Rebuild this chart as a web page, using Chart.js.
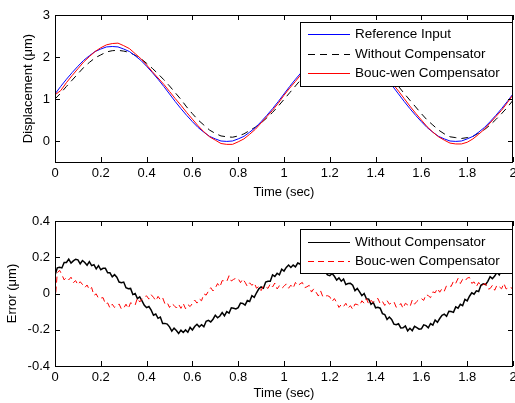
<!DOCTYPE html>
<html><head><meta charset="utf-8">
<script src="https://cdn.jsdelivr.net/npm/chart.js@4.4.0/dist/chart.umd.min.js"></script>
<style>
html,body{margin:0;padding:0;background:#fff;width:515px;height:403px;overflow:hidden}
canvas{position:absolute;left:0}
#c1{top:0}
#c2{top:200px}
</style></head><body>
<canvas id="c1" width="515" height="200"></canvas>
<canvas id="c2" width="515" height="203"></canvas>
<script>
// ---- data ----
const dtTop = 0.025;   // sample spacing of the displacement curves (s)
const dtErr = 0.01;    // sample spacing of the error curves (s)

const xTickVals   = [0, 0.2, 0.4, 0.6, 0.8, 1, 1.2, 1.4, 1.6, 1.8, 2];
const xTickLabels = ['0','0.2','0.4','0.6','0.8','1','1.2','1.4','1.6','1.8','2'];
const yTopTickVals   = [0, 1, 2, 3];
const yTopTickLabels = ['0','1','2','3'];
const yErrTickVals   = [-0.4, -0.2, 0, 0.2, 0.4];
const yErrTickLabels = ['-0.4','-0.2','0','0.2','0.4'];

const refInput = [1.12,1.30,1.47,1.63,1.78,1.92,2.03,2.13,2.19,2.24,2.25,2.24,2.19,2.13,2.03,1.92,1.78,1.63,1.47,1.30,1.12,0.94,0.77,0.61,0.46,0.32,0.21,0.11,0.05,0.00,-0.01,0.00,0.05,0.11,0.21,0.32,0.46,0.61,0.77,0.94,1.12,
1.30,1.47,1.63,1.78,1.92,2.03,2.13,2.19,2.24,2.25,2.24,2.19,2.13,2.03,1.92,1.78,1.63,1.47,1.30,1.12,0.94,0.77,0.61,0.46,0.32,0.21,0.11,0.05,0.00,-0.01,0.00,0.05,0.11,0.21,0.32,0.46,0.61,0.77,0.94,1.12];

const withoutComp = [1.00,1.14,1.30,1.45,1.60,1.75,1.87,1.98,2.05,2.12,2.15,2.16,2.14,2.11,2.04,1.96,1.85,1.73,1.60,1.46,1.31,1.15,0.99,0.81,0.65,0.50,0.38,0.26,0.18,0.12,0.10,0.09,0.12,0.17,0.25,0.33,0.43,0.55,0.68,0.83,0.99,
1.15,1.31,1.47,1.63,1.78,1.90,2.01,2.08,2.15,2.18,2.18,2.15,2.12,2.04,1.96,1.85,1.73,1.60,1.46,1.30,1.13,0.97,0.81,0.65,0.50,0.38,0.26,0.17,0.10,0.08,0.06,0.08,0.11,0.19,0.27,0.38,0.51,0.65,0.80,0.97];

const boucWen = [1.10,1.20,1.39,1.56,1.72,1.88,2.01,2.13,2.22,2.29,2.32,2.33,2.27,2.20,2.08,1.96,1.81,1.65,1.50,1.35,1.18,1.01,0.85,0.68,0.52,0.36,0.22,0.10,0.02,-0.06,-0.08,-0.08,-0.02,0.05,0.16,0.28,0.43,0.58,0.73,0.90,1.09,
1.26,1.42,1.59,1.74,1.90,2.03,2.15,2.22,2.29,2.32,2.32,2.26,2.19,2.08,1.96,1.82,1.68,1.52,1.36,1.19,1.01,0.83,0.66,0.50,0.34,0.21,0.10,0.02,-0.05,-0.07,-0.07,-0.03,0.05,0.16,0.28,0.43,0.58,0.73,0.91,1.10];

const errWithout = [
0.100,0.142,0.145,0.141,0.171,0.171,0.190,0.168,0.180,0.189,
0.186,0.164,0.182,0.171,0.156,0.176,0.154,0.159,0.136,0.154,
0.131,0.139,0.139,0.114,0.114,0.092,0.104,0.090,0.063,0.059,
0.063,0.032,0.026,0.028,-0.006,0.000,-0.028,-0.019,-0.041,-0.065,
-0.078,-0.072,-0.092,-0.120,-0.113,-0.137,-0.130,-0.165,-0.165,-0.169,
-0.184,-0.208,-0.191,-0.204,-0.220,-0.202,-0.215,-0.201,-0.214,-0.187,
-0.201,-0.182,-0.170,-0.184,-0.172,-0.183,-0.153,-0.148,-0.157,-0.142,
-0.120,-0.134,-0.124,-0.105,-0.123,-0.100,-0.108,-0.079,-0.081,-0.085,
-0.078,-0.053,-0.055,-0.064,-0.039,-0.044,-0.012,-0.021,0.004,0.026,
0.036,0.029,0.063,0.067,0.068,0.103,0.094,0.112,0.103,0.134,
0.124,0.144,0.157,0.144,0.157,0.147,0.168,0.163,0.145,0.150,
0.163,0.139,0.140,0.149,0.122,0.135,0.115,0.133,0.119,0.103,
0.098,0.110,0.095,0.074,0.086,0.068,0.080,0.050,0.055,0.056,
0.046,0.016,0.028,0.009,-0.012,0.000,-0.029,-0.031,-0.060,-0.049,
-0.079,-0.076,-0.081,-0.111,-0.116,-0.143,-0.130,-0.143,-0.169,-0.172,
-0.167,-0.190,-0.189,-0.179,-0.206,-0.192,-0.205,-0.181,-0.188,-0.197,
-0.195,-0.173,-0.177,-0.189,-0.166,-0.174,-0.146,-0.159,-0.138,-0.120,
-0.114,-0.126,-0.098,-0.099,-0.104,-0.074,-0.081,-0.060,-0.067,-0.033,
-0.041,-0.015,0.004,-0.004,0.015,0.011,0.045,0.053,0.049,0.067,
0.093,0.082,0.096,0.117,0.103,0.129,0.119,0.146,0.143,0.137,
0.155];

const errBoucWen = [
-0.050,0.114,0.128,0.104,0.075,0.089,0.075,0.090,0.060,0.071,
0.048,0.065,0.050,0.032,0.047,0.021,0.033,-0.010,-0.002,-0.027,
-0.025,-0.023,-0.058,-0.052,-0.080,-0.059,-0.077,-0.066,-0.058,-0.086,
-0.081,-0.059,-0.083,-0.051,-0.057,-0.064,-0.025,-0.047,-0.031,-0.018,
-0.013,-0.031,-0.007,-0.021,-0.040,-0.016,-0.034,-0.023,-0.057,-0.050,
-0.077,-0.056,-0.066,-0.080,-0.060,-0.082,-0.055,-0.084,-0.061,-0.072,
-0.055,-0.036,-0.053,-0.030,-0.040,-0.002,-0.009,0.013,0.032,0.014,
0.030,0.055,0.036,0.071,0.070,0.066,0.098,0.069,0.078,0.084,
0.082,0.060,0.080,0.062,0.039,0.059,0.045,0.059,0.029,0.039,
0.016,0.042,0.037,0.028,0.053,0.036,0.058,0.025,0.043,0.028,
0.040,0.053,0.029,0.046,0.029,0.061,0.043,0.053,0.061,0.032,
0.037,0.045,0.008,0.026,0.007,-0.014,0.014,-0.019,-0.014,-0.012,
-0.018,-0.044,-0.028,-0.050,-0.077,-0.061,-0.072,-0.054,-0.081,-0.067,
-0.087,-0.058,-0.061,-0.067,-0.040,-0.054,-0.029,-0.059,-0.038,-0.050,
-0.035,-0.027,-0.056,-0.044,-0.066,-0.039,-0.059,-0.051,-0.045,-0.076,
-0.073,-0.055,-0.082,-0.054,-0.063,-0.074,-0.036,-0.059,-0.044,-0.032,
-0.028,-0.038,-0.006,-0.012,-0.023,0.009,0.004,0.028,0.007,0.027,
0.013,0.044,0.043,0.039,0.068,0.056,0.083,0.055,0.078,0.068,
0.085,0.089,0.056,0.064,0.038,0.061,0.041,0.049,0.055,0.024,
0.027,0.045,0.018,0.046,0.037,0.026,0.056,0.025,0.032,0.036,
0.020];

// ---- helpers ----
const FONT = "'Liberation Sans', Arial, Helvetica, sans-serif";
Chart.defaults.font.family = FONT;
Chart.defaults.font.size = 13;
Chart.defaults.color = '#000';

const toXY = (arr, dt) => arr.map((v, i) => ({ x: +(i * dt).toFixed(4), y: v }));

const matlabBox = {
  id: 'matlabBox',
  afterDraw(chart, args, opts) {
    const { ctx, chartArea: a, scales: { x, y } } = chart;
    const L = 5;
    ctx.save();
    ctx.strokeStyle = '#000';
    ctx.lineWidth = 1;
    ctx.setLineDash([]);
    ctx.beginPath();
    x.ticks.forEach(t => {
      const px = Math.round(x.getPixelForValue(t.value)) + 0.5;
      ctx.moveTo(px, a.bottom); ctx.lineTo(px, a.bottom - L);
      ctx.moveTo(px, a.top); ctx.lineTo(px, a.top + L);
    });
    y.ticks.forEach(t => {
      const py = Math.round(y.getPixelForValue(t.value)) + 0.5;
      ctx.moveTo(a.left, py); ctx.lineTo(a.left + L, py);
      ctx.moveTo(a.right, py); ctx.lineTo(a.right - L, py);
    });
    ctx.stroke();
    ctx.strokeRect(Math.round(a.left) + 0.5, Math.round(a.top) + 0.5,
                   Math.round(a.right - a.left) - 1, Math.round(a.bottom - a.top));

    // legend box
    const lg = opts.legend;
    if (lg) {
      ctx.fillStyle = '#fff';
      ctx.fillRect(lg.x, lg.y, lg.w, lg.h);
      ctx.strokeRect(lg.x + 0.5, lg.y + 0.5, lg.w, lg.h);
      ctx.font = '13.5px ' + FONT;
      ctx.textBaseline = 'middle';
      ctx.textAlign = 'left';
      chart.data.datasets.forEach((ds, i) => {
        const ry = Math.round(lg.rows[i]) + 0.5;
        ctx.strokeStyle = ds.borderColor;
        ctx.lineWidth = 1;
        ctx.setLineDash(ds.borderDash || []);
        ctx.beginPath();
        ctx.moveTo(lg.x + 8, ry); ctx.lineTo(lg.x + 50, ry);
        ctx.stroke();
        ctx.setLineDash([]);
        ctx.fillStyle = '#000';
        ctx.fillText(ds.label, lg.x + 55, ry);
      });
    }
    ctx.restore();
  }
};

function makeOptions(cfg) {
  return {
    responsive: false,
    animation: false,
    devicePixelRatio: 1,
    layout: { padding: { top: cfg.padTop, right: 2, left: 0, bottom: 0 } },
    plugins: {
      legend: { display: false },
      tooltip: { enabled: false },
      matlabBox: { legend: cfg.legend }
    },
    elements: { point: { radius: 0 }, line: { tension: 0, borderWidth: 1 } },
    scales: {
      x: {
        type: 'linear', min: 0, max: 2,
        afterBuildTicks: s => { s.ticks = xTickVals.map(v => ({ value: v })); },
        afterFit: s => { s.height = cfg.xH; s.paddingLeft = 0; s.paddingRight = 0; },
        ticks: { padding: 4, maxRotation: 0, autoSkip: false, callback: (v, i) => xTickLabels[i] },
        grid: { display: false, drawTicks: false },
        border: { display: false },
        title: { display: true, text: 'Time (sec)', padding: { top: 0, bottom: cfg.xTitlePad }, font: { size: 13 } }
      },
      y: {
        type: 'linear', min: cfg.yMin, max: cfg.yMax,
        afterBuildTicks: s => { s.ticks = cfg.yTicks.map(v => ({ value: v })); },
        afterFit: s => { s.width = 55; s.paddingTop = 0; s.paddingBottom = 0; },
        ticks: { padding: 5, autoSkip: false, callback: (v, i) => cfg.yLabels[i] },
        grid: { display: false, drawTicks: false },
        border: { display: false },
        title: { display: true, text: cfg.yTitle, padding: { top: cfg.yTitlePad, bottom: 0 }, font: { size: 13 } }
      }
    }
  };
}

new Chart(document.getElementById('c1'), {
  type: 'line',
  data: {
    datasets: [
      { label: 'Reference Input', data: toXY(refInput, dtTop), borderColor: '#0000ff', order: 1 },
      { label: 'Without Compensator', data: toXY(withoutComp, dtTop), borderColor: '#000000', borderDash: [7, 5], order: 2 },
      { label: 'Bouc-wen Compensator', data: toXY(boucWen, dtTop), borderColor: '#ff0000', order: 0 }
    ]
  },
  options: makeOptions({
    padTop: 15, xH: 38, xTitlePad: 0,
    yMin: -0.5, yMax: 3, yTicks: yTopTickVals, yLabels: yTopTickLabels,
    yTitle: 'Displacement (\u03bcm)', yTitlePad: 21,
    legend: { x: 300, y: 22, w: 212, h: 64, rows: [34, 54, 73] }
  }),
  plugins: [matlabBox]
});

new Chart(document.getElementById('c2'), {
  type: 'line',
  data: {
    datasets: [
      { label: 'Without Compensator', data: toXY(errWithout, dtErr), borderColor: '#000000', borderWidth: 1.5, order: 1 },
      { label: 'Bouc-wen Compensator', data: toXY(errBoucWen, dtErr), borderColor: '#ff0000', borderDash: [6, 4], order: 0 }
    ]
  },
  options: makeOptions({
    padTop: 21, xH: 37, xTitlePad: 2,
    yMin: -0.4, yMax: 0.4, yTicks: yErrTickVals, yLabels: yErrTickLabels,
    yTitle: 'Error (\u03bcm)', yTitlePad: 5,
    legend: { x: 300, y: 29, w: 212, h: 44, rows: [41.5, 61] }
  }),
  plugins: [matlabBox]
});
</script>
</body></html>
